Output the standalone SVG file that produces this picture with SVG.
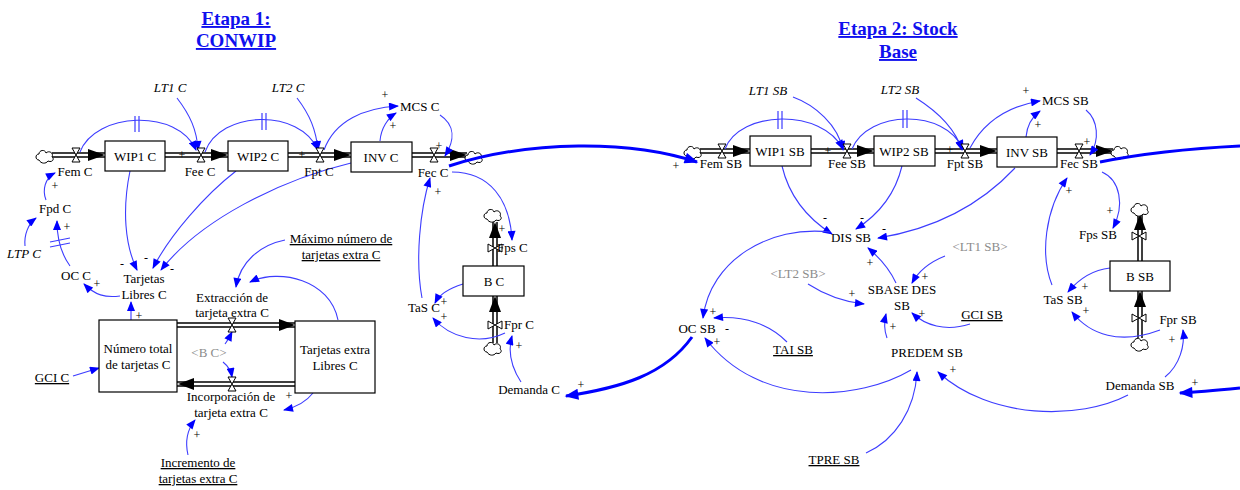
<svg xmlns="http://www.w3.org/2000/svg" width="1240" height="490" viewBox="0 0 1240 490">
<style>
.t{font-family:"Liberation Serif","Times New Roman",serif;font-size:13px;fill:#000}
.m{text-anchor:middle}
.i{font-style:italic}
.u{text-decoration:underline}
.g{fill:#8c8c8c}
.ti{font-family:"Liberation Serif","Times New Roman",serif;font-size:19px;font-weight:bold;fill:#1010ee;text-anchor:middle;text-decoration:underline}
.p{font-family:"Liberation Serif","Times New Roman",serif;font-size:12px;fill:#000;text-anchor:middle}
.box{fill:#fff;stroke:#000;stroke-width:1.2}
.lk{fill:none;stroke:#3d3dff;stroke-width:1.1;marker-end:url(#ah)}
.tk{fill:none;stroke:#0000ff;stroke-width:3}
.tka{marker-end:url(#ahT)}
.po{fill:none;stroke:#000;stroke-width:5.5}
.pi{fill:none;stroke:#fff;stroke-width:2.5}
.db{stroke:#3d3dff;stroke-width:1.2;fill:none}
</style>
<defs>
<marker id="ah" viewBox="0 0 10 8" refX="9" refY="4" markerWidth="11" markerHeight="8" markerUnits="userSpaceOnUse" orient="auto"><path d="M0 0 L10 4 L0 8 Z" fill="#0000ff"/></marker>
<marker id="ahT" viewBox="0 0 10 8" refX="9" refY="4" markerWidth="16" markerHeight="11" markerUnits="userSpaceOnUse" orient="auto"><path d="M0 0 L10 4 L0 8 Z" fill="#0000ff"/></marker>
<symbol id="cloud" overflow="visible"><path d="M-6 4 C-10 4 -10 -2 -6 -2 C-6 -6 0 -7 1 -3 C4 -6 9 -3 7 1 C10 3 7 7 3 5 C1 8 -4 8 -6 4 Z" fill="#fff" stroke="#000" stroke-width="1"/></symbol>
<symbol id="vh" overflow="visible"><path d="M-4 -7 H4 L-4 7 H4 Z" fill="#fff" stroke="#000" stroke-width="1"/></symbol>
<symbol id="vv" overflow="visible"><path d="M-7 -4 V4 L7 -4 V4 Z" fill="#fff" stroke="#000" stroke-width="1"/></symbol>
</defs>
<rect width="1240" height="490" fill="#fff"/>

<g id="titles">
<text class="ti" x="236" y="25">Etapa 1:</text>
<text class="ti" x="236" y="47">CONWIP</text>
<text class="ti" x="898" y="35">Etapa 2: Stock</text>
<text class="ti" x="898" y="58">Base</text>
</g>

<g id="pipes">
<path class="po" d="M52 155 H105 M165 155 H228 M288 155 H351 M412 155 H467"/>
<path class="pi" d="M52 155 H105 M165 155 H228 M288 155 H351 M412 155 H467"/>
<path class="po" d="M700 151 H750 M811 151 H874 M935 151 H997 M1057 151 H1113"/>
<path class="pi" d="M700 151 H750 M811 151 H874 M935 151 H997 M1057 151 H1113"/>
<path class="po" d="M177 325 H295 M177 384 H295"/>
<path class="pi" d="M177 325 H295 M177 384 H295"/>
<path class="po" d="M495 222 V266 M495 296 V343 M1140 214 V261 M1140 291 V338"/>
<path class="pi" d="M495 222 V266 M495 296 V343 M1140 214 V261 M1140 291 V338"/>
<g fill="#000">
<polygon points="105,155 88,149 88,161"/>
<polygon points="228,155 211,149 211,161"/>
<polygon points="351,155 334,149 334,161"/>
<polygon points="467,155 450,149 450,161"/>
<polygon points="750,151 733,145 733,157"/>
<polygon points="874,151 857,145 857,157"/>
<polygon points="997,151 980,145 980,157"/>
<polygon points="1113,151 1096,145 1096,157"/>
<polygon points="295,325 279,319 279,331"/>
<polygon points="178,384 194,378 194,390"/>
<polygon points="495,222 489,238 501,238"/>
<polygon points="495,296 489,312 501,312"/>
<polygon points="1140,214 1134,230 1146,230"/>
<polygon points="1140,291 1134,307 1146,307"/>
</g>
<use href="#cloud" x="45" y="156"/>
<use href="#cloud" x="474" y="157"/>
<use href="#cloud" x="693" y="152"/>
<use href="#cloud" x="1120" y="152"/>
<use href="#cloud" x="493" y="215"/>
<use href="#cloud" x="493" y="348"/>
<use href="#cloud" x="1140" y="209"/>
<use href="#cloud" x="1140" y="344"/>
</g>

<g id="connectors">
<path class="lk" d="M80 152 C95 112 178 108 196 150"/>
<path class="lk" d="M205 152 C220 110 300 108 318 150"/>
<path class="lk" d="M177 98 C190 115 197 130 198 150"/>
<path class="lk" d="M297 98 C310 115 316 130 318 150"/>
<path class="lk" d="M324 150 C335 120 365 108 398 106"/>
<path class="lk" d="M380 141 C381 128 388 118 396 113"/>
<path class="lk" d="M440 115 C455 125 455 140 445 156"/>
<path class="lk" d="M452 172 C490 172 510 200 512 240"/>
<path class="tk tka" d="M449 166 C530 140 630 140 697 162"/>
<path class="lk" d="M422 298 C415 260 420 210 430 178"/>
<path class="lk" d="M463 284 C450 288 440 293 435 303"/>
<path class="lk" d="M505 333 C480 345 450 338 433 318"/>
<path class="lk" d="M521 382 C510 365 508 350 512 336"/>
<path class="tk tka" d="M692 337 C665 375 620 388 566 396"/>
<path class="lk" d="M130 171 C122 210 125 245 137 270"/>
<path class="lk" d="M236 171 C205 195 170 235 153 268"/>
<path class="lk" d="M351 163 C280 180 200 220 161 270"/>
<path class="lk" d="M120 296 C105 298 95 295 84 284"/>
<path class="lk" d="M70 266 C62 255 57 240 57 221"/>
<path class="lk" d="M25 246 C24 235 28 224 36 218"/>
<path class="lk" d="M46 200 C42 190 45 178 55 173"/>
<path class="lk" d="M131 321 L131 302"/>
<path class="lk" d="M285 240 C260 245 240 262 236 287"/>
<path class="lk" d="M338 320 C330 280 280 268 250 282"/>
<path class="lk" d="M225 344 C228 340 230 336 232 332"/>
<path class="lk" d="M223 362 C228 366 231 371 232 377"/>
<path class="lk" d="M313 393 C306 402 297 407 284 410"/>
<path class="lk" d="M188 455 C185 442 187 430 195 420"/>
<path class="lk" d="M73 376 L99 368"/>

<path class="lk" d="M725 149 C740 110 822 108 843 149"/>
<path class="lk" d="M852 149 C868 110 945 108 963 149"/>
<path class="lk" d="M793 97 C815 105 838 125 843 150"/>
<path class="lk" d="M916 98 C935 110 955 128 962 150"/>
<path class="lk" d="M970 148 C985 120 1010 106 1040 101"/>
<path class="lk" d="M1026 137 C1027 125 1032 117 1040 111"/>
<path class="lk" d="M1086 110 C1098 120 1100 140 1090 155"/>
<path class="lk" d="M1102 172 C1120 180 1125 205 1113 228"/>
<path class="tk" d="M1100 162 C1150 152 1200 148 1240 146"/>
<path class="lk" d="M1052 285 C1040 255 1045 210 1067 178"/>
<path class="lk" d="M1110 268 C1092 270 1078 280 1068 292"/>
<path class="lk" d="M1160 330 C1120 345 1090 335 1072 312"/>
<path class="lk" d="M1165 377 C1180 365 1185 345 1183 330"/>
<path class="tk tka" d="M1240 388 C1220 390 1200 392 1180 393"/>
<path class="lk" d="M1128 395 C1080 420 990 420 938 372"/>
<path class="lk" d="M782 166 C790 200 810 220 832 234"/>
<path class="lk" d="M902 166 C895 195 878 215 856 229"/>
<path class="lk" d="M1015 168 C985 200 940 228 878 238"/>
<path class="lk" d="M830 232 C770 225 710 260 703 318"/>
<path class="lk" d="M896 283 C890 270 880 258 868 248"/>
<path class="lk" d="M945 256 C930 262 918 272 912 283"/>
<path class="lk" d="M808 284 C825 295 845 302 864 304"/>
<path class="lk" d="M970 324 C945 332 925 325 912 313"/>
<path class="lk" d="M887 338 C884 330 884 322 886 314"/>
<path class="lk" d="M787 342 C770 325 745 315 714 318"/>
<path class="lk" d="M911 370 C860 400 760 410 705 338"/>
<path class="lk" d="M866 453 C895 440 915 410 917 372"/>

<path class="db" d="M135 116 V132 M139 116 V132 M262 113 V130 M266 113 V130 M778 111 V129 M782 111 V129 M903 110 V128 M907 110 V128 M50 242 L70 238 M50 247 L70 243"/>

<g id="polarity">
<text class="p" x="182" y="159">+</text>
<text class="p" x="302" y="159">+</text>
<text class="p" x="385" y="99">+</text>
<text class="p" x="393" y="130">+</text>
<text class="p" x="439" y="150">+</text>
<text class="p" x="438" y="196">+</text>
<text class="p" x="502" y="233">+</text>
<text class="p" x="444" y="306">+</text>
<text class="p" x="444" y="321">+</text>
<text class="p" x="519" y="350">+</text>
<text class="p" x="581" y="389">+</text>
<text class="p" x="55" y="190">+</text>
<text class="p" x="67" y="231">+</text>
<text class="p" x="97" y="288">+</text>
<text class="p" x="122" y="268">-</text>
<text class="p" x="146" y="262">-</text>
<text class="p" x="172" y="273">-</text>
<text class="p" x="139" y="320">+</text>
<text class="p" x="289" y="400">+</text>
<text class="p" x="197" y="439">+</text>
<text class="p" x="676" y="170">+</text>
<text class="p" x="828" y="155">+</text>
<text class="p" x="950" y="154">+</text>
<text class="p" x="1026" y="95">+</text>
<text class="p" x="1038" y="129">+</text>
<text class="p" x="1087" y="146">+</text>
<text class="p" x="1069" y="195">+</text>
<text class="p" x="1110" y="215">+</text>
<text class="p" x="1085" y="291">+</text>
<text class="p" x="1086" y="315">+</text>
<text class="p" x="1172" y="344">+</text>
<text class="p" x="1195" y="387">+</text>
<text class="p" x="953" y="374">+</text>
<text class="p" x="825" y="222">-</text>
<text class="p" x="862" y="222">-</text>
<text class="p" x="884" y="233">-</text>
<text class="p" x="870" y="267">+</text>
<text class="p" x="925" y="281">+</text>
<text class="p" x="852" y="298">+</text>
<text class="p" x="922" y="318">+</text>
<text class="p" x="893" y="331">+</text>
<text class="p" x="713" y="316">+</text>
<text class="p" x="727" y="333">-</text>
<text class="p" x="717" y="346">+</text>
</g>
</g>

<g id="valves">
<use href="#vh" x="76" y="155"/>
<use href="#vh" x="201" y="155"/>
<use href="#vh" x="320" y="155"/>
<use href="#vh" x="434" y="155"/>
<use href="#vh" x="722" y="151"/>
<use href="#vh" x="847" y="151"/>
<use href="#vh" x="965" y="151"/>
<use href="#vh" x="1079" y="151"/>
<use href="#vh" x="232" y="325"/>
<use href="#vh" x="232" y="384"/>
<use href="#vv" x="495" y="248"/>
<use href="#vv" x="495" y="325"/>
<use href="#vv" x="1139" y="236"/>
<use href="#vv" x="1139" y="318"/>
</g>

<g id="n-WIP1C"><rect class="box" x="105" y="141" width="60" height="30"/><text class="t m" x="135" y="161">WIP1 C</text></g>
<g id="n-WIP2C"><rect class="box" x="228" y="141" width="60" height="30"/><text class="t m" x="258" y="161">WIP2 C</text></g>
<g id="n-INVC"><rect class="box" x="351" y="142" width="61" height="30"/><text class="t m" x="381" y="162">INV C</text></g>
<g id="n-BC"><rect class="box" x="463" y="266" width="61" height="30"/><text class="t m" x="494" y="286">B C</text></g>
<g id="n-NumTot"><rect class="box" x="99" y="320" width="78" height="72"/><text class="t m" x="138" y="353">Número total</text><text class="t m" x="138" y="369">de tarjetas C</text></g>
<g id="n-TarjExtra"><rect class="box" x="295" y="321" width="80" height="72"/><text class="t m" x="335" y="354">Tarjetas extra</text><text class="t m" x="335" y="370">Libres C</text></g>
<g id="n-FemC"><text class="t m" x="75" y="176">Fem C</text></g>
<g id="n-FeeC"><text class="t m" x="200" y="176">Fee C</text></g>
<g id="n-FptC"><text class="t m" x="319" y="176">Fpt C</text></g>
<g id="n-FecC"><text class="t m" x="433" y="177">Fec C</text></g>
<g id="n-LT1C"><text class="t m i" x="170" y="92">LT1 C</text></g>
<g id="n-LT2C"><text class="t m i" x="288" y="92">LT2 C</text></g>
<g id="n-MCSC"><text class="t" x="400" y="111">MCS C</text></g>
<g id="n-FpdC"><text class="t m" x="55" y="213">Fpd C</text></g>
<g id="n-LTPC"><text class="t m i" x="24" y="258">LTP C</text></g>
<g id="n-OCC"><text class="t m" x="76" y="280">OC C</text></g>
<g id="n-TarjLib"><text class="t m" x="144" y="283">Tarjetas</text><text class="t m" x="144" y="299">Libres C</text></g>
<g id="n-MaxNum"><text class="t m u" x="341" y="243">Máximo número de</text><text class="t m u" x="341" y="259">tarjetas extra C</text></g>
<g id="n-Extr"><text class="t m" x="232" y="302">Extracción de</text><text class="t m" x="232" y="317">tarjeta extra C</text></g>
<g id="n-BCshadow"><text class="t m g" x="209" y="357">&lt;B C&gt;</text></g>
<g id="n-Incorp"><text class="t m" x="231" y="401">Incorporación de</text><text class="t m" x="231" y="417">tarjeta extra C</text></g>
<g id="n-GCIC"><text class="t m u" x="52" y="382">GCI C</text></g>
<g id="n-Incr"><text class="t m u" x="198" y="467">Incremento de</text><text class="t m u" x="198" y="483">tarjetas extra C</text></g>
<g id="n-FpsC"><text class="t" x="497" y="252">Fps C</text></g>
<g id="n-FprC"><text class="t" x="504" y="329">Fpr C</text></g>
<g id="n-TaSC"><text class="t m" x="424" y="312">TaS C</text></g>
<g id="n-DemC"><text class="t m" x="529" y="394">Demanda C</text></g>

<g id="n-WIP1SB"><rect class="box" x="750" y="136" width="61" height="30"/><text class="t m" x="780" y="156">WIP1 SB</text></g>
<g id="n-WIP2SB"><rect class="box" x="874" y="136" width="61" height="30"/><text class="t m" x="904" y="156">WIP2 SB</text></g>
<g id="n-INVSB"><rect class="box" x="997" y="137" width="60" height="30"/><text class="t m" x="1027" y="157">INV SB</text></g>
<g id="n-BSB"><rect class="box" x="1110" y="261" width="60" height="30"/><text class="t m" x="1140" y="281">B SB</text></g>
<g id="n-FemSB"><text class="t m" x="721" y="168">Fem SB</text></g>
<g id="n-FeeSB"><text class="t m" x="847" y="168">Fee SB</text></g>
<g id="n-FptSB"><text class="t m" x="965" y="168">Fpt SB</text></g>
<g id="n-FecSB"><text class="t m" x="1079" y="168">Fec SB</text></g>
<g id="n-LT1SB"><text class="t m i" x="768" y="95">LT1 SB</text></g>
<g id="n-LT2SB"><text class="t m i" x="900" y="94">LT2 SB</text></g>
<g id="n-MCSSB"><text class="t" x="1042" y="105">MCS SB</text></g>
<g id="n-DISSB"><text class="t m" x="851" y="242">DIS SB</text></g>
<g id="n-SBASE"><text class="t m" x="902" y="294">SBASE DES</text><text class="t m" x="902" y="310">SB</text></g>
<g id="n-LT1SBs"><text class="t m g" x="980" y="251">&lt;LT1 SB&gt;</text></g>
<g id="n-LT2SBs"><text class="t m g" x="798" y="278">&lt;LT2 SB&gt;</text></g>
<g id="n-GCISB"><text class="t m u" x="982" y="319">GCI SB</text></g>
<g id="n-OCSB"><text class="t m" x="697" y="333">OC SB</text></g>
<g id="n-TAISB"><text class="t m u" x="793" y="354">TAI SB</text></g>
<g id="n-PREDEM"><text class="t m" x="927" y="357">PREDEM SB</text></g>
<g id="n-TPRESB"><text class="t m u" x="834" y="464">TPRE SB</text></g>
<g id="n-FpsSB"><text class="t m" x="1098" y="239">Fps SB</text></g>
<g id="n-TaSSB"><text class="t m" x="1063" y="304">TaS SB</text></g>
<g id="n-FprSB"><text class="t m" x="1178" y="324">Fpr SB</text></g>
<g id="n-DemSB"><text class="t m" x="1140" y="390">Demanda SB</text></g>
</svg>
